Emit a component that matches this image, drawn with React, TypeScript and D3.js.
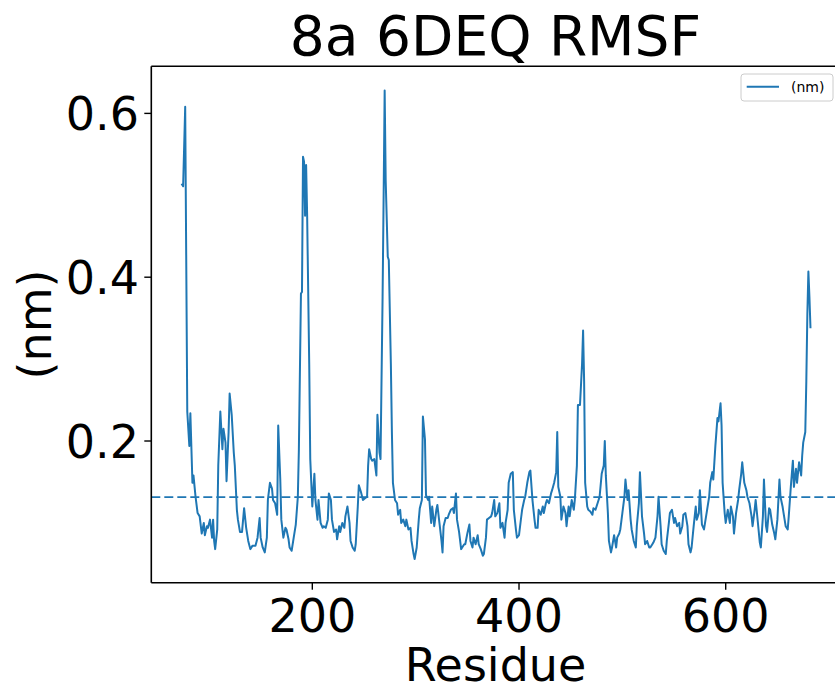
import React from "react";
import * as d3 from "d3";

const titleText = "8a 6DEQ RMSF";
const xLabel = "Residue";
const yLabel = "(nm)";
const legendLabel = "(nm)";
const xTicks = [200, 400, 600];
const yTicks = [0.2, 0.4, 0.6];
const meanLine = 0.1315;

const residues = [
  74, 75, 77, 79, 81, 82, 84, 85, 87, 89, 91, 93, 95, 96, 98, 99, 101, 103, 104, 105, 106, 108, 109, 111, 113, 114, 116, 117, 119, 120,
  122, 124, 125, 127, 128, 130, 132, 134, 136, 138, 140, 142, 145, 147, 149, 150, 152, 154, 156, 157, 159, 161, 162, 164, 166, 167, 169, 170, 172, 174,
  175, 177, 178, 180, 182, 184, 186, 187, 189, 190, 191, 192, 193, 194, 195, 197, 198, 200, 202, 203, 205, 206, 208, 210, 211, 213, 215, 216, 218, 219,
  221, 223, 224, 226, 227, 229, 231, 232, 234, 236, 237, 239, 241, 242, 244, 245, 247, 249, 251, 253, 254, 255, 257, 258, 260, 262, 263, 265, 266, 268,
  269, 270, 271, 273, 274, 276, 277, 278, 280, 282, 283, 285, 286, 288, 290, 291, 293, 295, 296, 298, 299, 301, 303, 304, 306, 307, 309, 310, 312, 313,
  315, 316, 318, 320, 321, 323, 325, 326, 327, 329, 331, 332, 334, 336, 337, 339, 340, 342, 344, 345, 347, 348, 350, 352, 353, 355, 356, 358, 360, 361,
  363, 365, 366, 368, 369, 371, 373, 374, 376, 377, 379, 381, 382, 384, 386, 387, 389, 390, 392, 394, 395, 397, 398, 400, 402, 403, 405, 406, 408, 410,
  411, 413, 415, 416, 418, 419, 421, 423, 424, 426, 427, 429, 431, 432, 434, 436, 437, 438, 440, 441, 443, 445, 446, 448, 449, 451, 453, 454, 456, 457,
  459, 461, 462, 463, 464, 466, 467, 469, 471, 472, 474, 476, 477, 478, 480, 482, 483, 484, 486, 487, 489, 490, 492, 494, 495, 497, 498, 500, 502, 503,
  505, 506, 508, 509, 511, 513, 514, 516, 517, 519, 521, 522, 524, 526, 527, 529, 530, 532, 534, 535, 537, 538, 540, 542, 543, 545, 546, 548, 550, 551,
  553, 555, 556, 558, 559, 561, 563, 564, 566, 567, 569, 571, 572, 574, 575, 577, 579, 580, 582, 584, 585, 587, 588, 590, 592, 593, 595, 596, 597, 599,
  600, 602, 604, 605, 607, 608, 610, 612, 613, 615, 616, 618, 620, 621, 623, 625, 626, 628, 629, 631, 633, 634, 636, 637, 639, 640, 642, 643, 645, 647,
  648, 650, 652, 653, 655, 656, 658, 660, 661, 663, 665, 666, 668, 669, 671, 673, 674, 675, 677, 678, 679, 680, 681, 682
];

const rmsf = [
  0.513, 0.511, 0.608, 0.236, 0.194, 0.234, 0.149, 0.158, 0.132, 0.112, 0.108, 0.087, 0.100, 0.085, 0.096, 0.094, 0.104, 0.082, 0.104, 0.078, 0.068, 0.092, 0.170, 0.236, 0.190, 0.215, 0.198, 0.151, 0.211, 0.258,
  0.232, 0.186, 0.170, 0.116, 0.104, 0.089, 0.089, 0.118, 0.094, 0.078, 0.068, 0.072, 0.072, 0.082, 0.106, 0.082, 0.070, 0.064, 0.082, 0.128, 0.149, 0.142, 0.128, 0.124, 0.110, 0.219, 0.153, 0.104, 0.082, 0.094,
  0.092, 0.080, 0.070, 0.066, 0.082, 0.098, 0.132, 0.190, 0.380, 0.382, 0.547, 0.541, 0.475, 0.537, 0.475, 0.294, 0.178, 0.120, 0.160, 0.128, 0.104, 0.128, 0.100, 0.094, 0.096, 0.094, 0.104, 0.136, 0.128, 0.104,
  0.089, 0.092, 0.080, 0.096, 0.089, 0.100, 0.094, 0.108, 0.120, 0.100, 0.078, 0.070, 0.066, 0.074, 0.120, 0.146, 0.138, 0.128, 0.130, 0.132, 0.170, 0.190, 0.178, 0.176, 0.178, 0.158, 0.232, 0.186, 0.178, 0.376,
  0.499, 0.628, 0.518, 0.425, 0.421, 0.294, 0.211, 0.149, 0.128, 0.124, 0.110, 0.116, 0.100, 0.104, 0.096, 0.104, 0.092, 0.094, 0.078, 0.062, 0.056, 0.070, 0.104, 0.118, 0.128, 0.230, 0.202, 0.134, 0.128, 0.132,
  0.100, 0.120, 0.096, 0.116, 0.122, 0.100, 0.078, 0.064, 0.096, 0.106, 0.106, 0.110, 0.116, 0.118, 0.112, 0.136, 0.104, 0.089, 0.068, 0.070, 0.074, 0.074, 0.087, 0.098, 0.078, 0.070, 0.082, 0.074, 0.085, 0.074,
  0.068, 0.060, 0.062, 0.082, 0.104, 0.106, 0.108, 0.112, 0.128, 0.108, 0.112, 0.124, 0.094, 0.100, 0.082, 0.100, 0.116, 0.149, 0.160, 0.162, 0.116, 0.092, 0.082, 0.085, 0.106, 0.116, 0.128, 0.132, 0.149, 0.162,
  0.164, 0.128, 0.104, 0.094, 0.094, 0.116, 0.110, 0.120, 0.112, 0.124, 0.128, 0.124, 0.136, 0.140, 0.149, 0.162, 0.211, 0.144, 0.132, 0.104, 0.120, 0.112, 0.096, 0.120, 0.108, 0.128, 0.116, 0.128, 0.170, 0.244,
  0.244, 0.294, 0.335, 0.273, 0.149, 0.120, 0.116, 0.114, 0.110, 0.118, 0.116, 0.124, 0.128, 0.132, 0.160, 0.170, 0.200, 0.158, 0.112, 0.078, 0.064, 0.070, 0.085, 0.070, 0.082, 0.087, 0.092, 0.112, 0.132, 0.153,
  0.128, 0.140, 0.104, 0.092, 0.078, 0.070, 0.096, 0.124, 0.162, 0.108, 0.087, 0.074, 0.078, 0.070, 0.070, 0.074, 0.076, 0.082, 0.108, 0.132, 0.096, 0.074, 0.066, 0.062, 0.078, 0.100, 0.112, 0.116, 0.100, 0.106,
  0.096, 0.100, 0.087, 0.096, 0.110, 0.112, 0.096, 0.074, 0.064, 0.070, 0.096, 0.120, 0.104, 0.112, 0.140, 0.098, 0.092, 0.100, 0.116, 0.132, 0.149, 0.162, 0.153, 0.194, 0.228, 0.224, 0.246, 0.219, 0.149, 0.112,
  0.100, 0.116, 0.100, 0.120, 0.108, 0.087, 0.112, 0.128, 0.140, 0.160, 0.174, 0.149, 0.140, 0.132, 0.124, 0.108, 0.096, 0.116, 0.128, 0.102, 0.076, 0.070, 0.108, 0.153, 0.096, 0.089, 0.118, 0.116, 0.098, 0.087,
  0.080, 0.104, 0.153, 0.132, 0.120, 0.112, 0.096, 0.092, 0.108, 0.144, 0.176, 0.144, 0.166, 0.149, 0.174, 0.158, 0.182, 0.198, 0.211, 0.273, 0.355, 0.407, 0.376, 0.339
];

const W = 835;
const H = 689;
const plot = { left: 151.3, right: 839.7, top: 66.3, bottom: 582.7 };
const xDomain = [44.2, 710.3];
const yDomain = [0.027, 0.6575];
const font = "'DejaVu Sans', sans-serif";
const blue = "#1f77b4";

export default function App() {
  const x = d3.scaleLinear().domain(xDomain).range([plot.left, plot.right]);
  const y = d3.scaleLinear().domain(yDomain).range([plot.bottom, plot.top]);
  const pts = residues.map((r, i) => [r, rmsf[i]] as [number, number]);
  const line = d3
    .line<[number, number]>()
    .x((d) => x(d[0]))
    .y((d) => y(d[1]));
  const pathD = line(pts) || "";

  return (
    <div style={{ position: "absolute", left: 0, top: 0 }}>
      <svg width={W} height={H} style={{ display: "block", background: "#fff" }}>
        <rect x={0} y={0} width={W} height={H} fill="#fff" />
        <defs>
          <clipPath id="plotclip">
            <rect x={plot.left} y={plot.top} width={plot.right - plot.left} height={plot.bottom - plot.top} />
          </clipPath>
        </defs>
        <g clipPath="url(#plotclip)">
          <path d={pathD} fill="none" stroke={blue} strokeWidth={2} strokeLinejoin="round" strokeLinecap="square" />
          <line
            x1={plot.left}
            x2={plot.right}
            y1={y(meanLine)}
            y2={y(meanLine)}
            stroke={blue}
            strokeWidth={1.8}
            strokeDasharray="9,4"
          />
        </g>
        {/* spines */}
        <line x1={plot.left} x2={plot.left} y1={plot.top} y2={plot.bottom} stroke="#000" strokeWidth={1.6} />
        <line x1={plot.left} x2={plot.right} y1={plot.bottom} y2={plot.bottom} stroke="#000" strokeWidth={1.6} />
        <line x1={plot.left} x2={plot.right} y1={plot.top} y2={plot.top} stroke="#000" strokeWidth={1.6} />
        <line x1={plot.right} x2={plot.right} y1={plot.top} y2={plot.bottom} stroke="#000" strokeWidth={1.6} />
        {/* x ticks */}
        {xTicks.map((t) => (
          <g key={"x" + t}>
            <line x1={x(t)} x2={x(t)} y1={plot.bottom} y2={plot.bottom + 7} stroke="#000" strokeWidth={1.4} />
            <text x={x(t)} y={631.7} textAnchor="middle" fontFamily={font} fontSize={46} fill="#000">
              {t}
            </text>
          </g>
        ))}
        {/* y ticks */}
        {yTicks.map((t) => (
          <g key={"y" + t}>
            <line x1={plot.left - 7} x2={plot.left} y1={y(t)} y2={y(t)} stroke="#000" strokeWidth={1.4} />
            <text x={139} y={y(t) + 16.7} textAnchor="end" fontFamily={font} fontSize={46} fill="#000">
              {t.toFixed(1)}
            </text>
          </g>
        ))}
        {/* labels */}
        <text x={(plot.left + plot.right) / 2} y={681} textAnchor="middle" fontFamily={font} fontSize={46} fill="#000">
          {xLabel}
        </text>
        <text
          transform={`translate(51, ${(plot.top + plot.bottom) / 2}) rotate(-90)`}
          textAnchor="middle"
          fontFamily={font}
          fontSize={46}
          fill="#000"
        >
          {yLabel}
        </text>
        <text x={(plot.left + plot.right) / 2} y={55} textAnchor="middle" fontFamily={font} fontSize={55} fill="#000">
          {titleText}
        </text>
        {/* legend */}
        <g>
          <rect x={741} y={74} width={92} height={27} rx={3} ry={3} fill="#fff" fillOpacity={0.8} stroke="#ccc" strokeWidth={1} />
          <line x1={746.7} x2={779} y1={86.7} y2={86.7} stroke={blue} strokeWidth={2} />
          <text x={791} y={92} fontFamily={font} fontSize={14} fill="#000">
            {legendLabel}
          </text>
        </g>
      </svg>
    </div>
  );
}
